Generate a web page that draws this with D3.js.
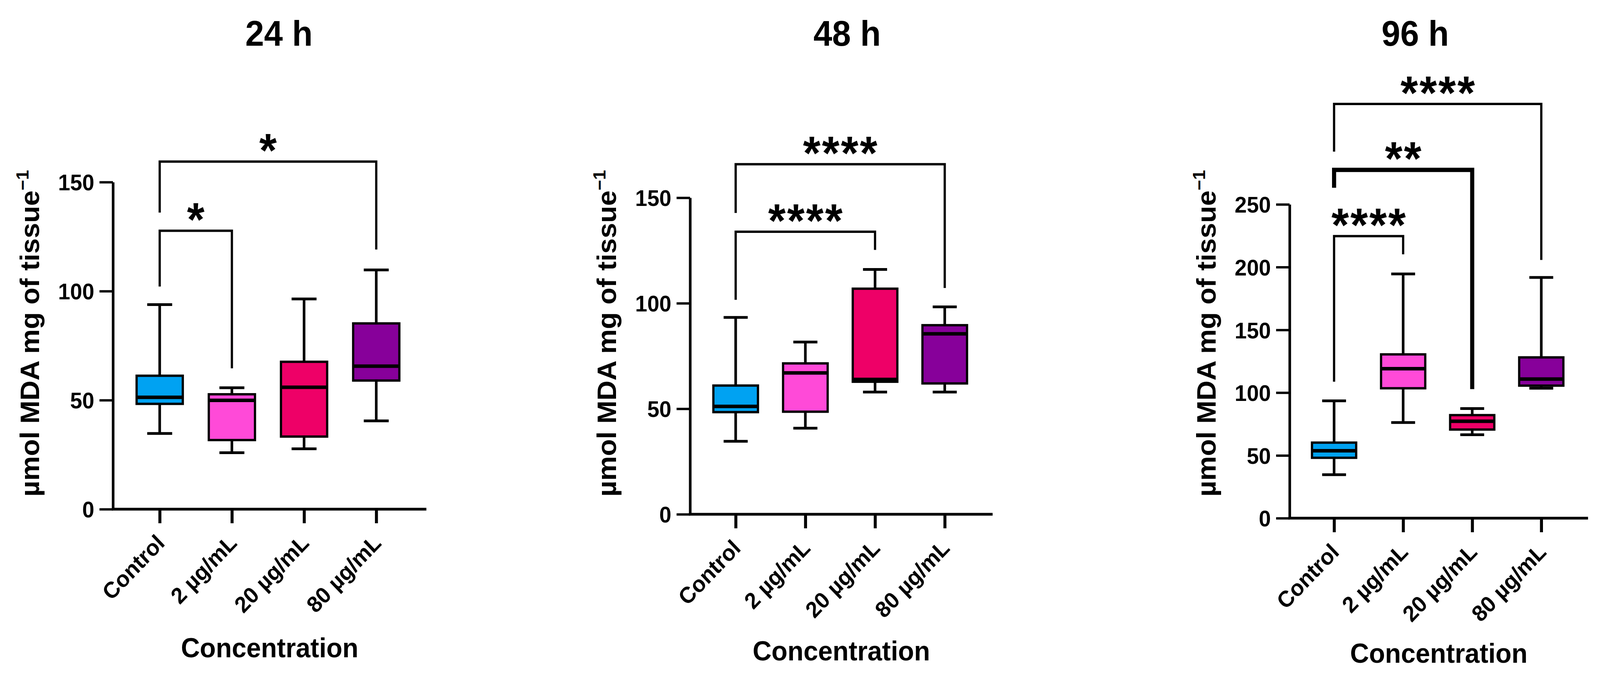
<!DOCTYPE html>
<html>
<head>
<meta charset="utf-8">
<script src="https://cdn.jsdelivr.net/npm/d3@7"></script>
<style>html,body{margin:0;padding:0;background:#fff;overflow:hidden}svg{display:block}</style>
</head>
<body>
<svg id="chart"></svg>
<script>
// groups and their fill colours
const categories = ["Control", "2 µg/mL", "20 µg/mL", "80 µg/mL"];
const colors = ["#00a2f2", "#ff4ad8", "#ee0067", "#87009a"];
const panelTitles = ["24 h", "48 h", "96 h"];

// [min, q1, median, q3, max] per group
const box24h = [[34.7, 48.3, 51.3, 61.2, 93.8], [25.9, 31.7, 49.9, 52.7, 55.7], [27.7, 33.3, 55.9, 67.6, 96.4], [40.5, 59.0, 65.6, 85.2, 109.7]];
const box48h = [[34.6, 48.4, 51.1, 61.0, 93.3], [40.8, 48.6, 67.0, 71.5, 81.6], [57.9, 62.8, 63.9, 106.9, 116.0], [57.9, 62.0, 85.5, 89.6, 98.3]];
const box96h = [[34.6, 48.1, 53.7, 60.2, 93.5], [76.2, 103.5, 119.1, 130.5, 194.6], [66.5, 70.6, 77.2, 82.1, 87.3], [103.5, 105.6, 110.8, 128.1, 191.8]];

const yTicks24 = [0, 50, 100, 150];
const yTicks48 = [0, 50, 100, 150];
const yTicks96 = [0, 50, 100, 150, 200, 250];

// significance brackets: groups a-b, bar level, left/right leg ends (data units)
const brackets24 = [
  {a: 0, b: 1, y: 127.7, ya: 102.1, yb: 64.6, label: "*"},
  {a: 0, b: 3, y: 159.4, ya: 136.0, yb: 119.1, label: "*"}
];
const brackets48 = [
  {a: 0, b: 2, y: 133.9, ya: 101.6, yb: 125.3, label: "****"},
  {a: 0, b: 3, y: 165.9, ya: 142.8, yb: 107.2, label: "****"}
];
const brackets96 = [
  {a: 0, b: 1, y: 224.7, ya: 108.7, yb: 210.2, label: "****"},
  {a: 0, b: 2, y: 277.5, ya: 263.2, yb: 102.8, label: "**"},
  {a: 0, b: 3, y: 330.0, ya: 292.0, yb: 205.7, label: "****"}
];

// layout of each panel (pixels)
const panels = [
  {title: panelTitles[0], boxes: box24h, ticks: yTicks24, brackets: brackets24,
   left: 302, right: 1140, first: 427, last: 1006, bottom: 1303, top: 466,
   titleX: 746, xTitleY: 1682, bracketWidth: [6, 6]},
  {title: panelTitles[1], boxes: box48h, ticks: yTicks48, brackets: brackets48,
   left: 1845, right: 2654, first: 1967, last: 2526, bottom: 1316, top: 506,
   titleX: 2265, xTitleY: 1690, bracketWidth: [6, 6]},
  {title: panelTitles[2], boxes: box96h, ticks: yTicks96, brackets: brackets96,
   left: 3448, right: 4246, first: 3567, last: 4121, bottom: 1326, top: 523,
   titleX: 3784, xTitleY: 1696, bracketWidth: [6, 11, 6]}
];

const W = 4278, H = 1735;
const font = "'Liberation Sans', Arial, sans-serif";
const svg = d3.select("#chart")
  .attr("viewBox", `0 0 ${W} ${H}`)
  .attr("preserveAspectRatio", "none")
  .attr("width", window.innerWidth || W)
  .attr("height", window.innerHeight || H);
svg.append("rect").attr("width", W).attr("height", H).attr("fill", "#fff");
const starSize = 120;

panels.forEach(p => {
  const g = svg.append("g");
  const x = d3.scalePoint().domain(categories).range([p.first, p.last]);
  const y = d3.scaleLinear().domain([0, p.ticks[p.ticks.length - 1]]).range([p.bottom, p.top]);
  const bw = x.step() * 0.64;

  // title
  g.append("text").attr("x", p.titleX).attr("y", 117)
    .attr("text-anchor", "middle").attr("font-family", font).attr("font-weight", "bold")
    .attr("font-size", 90).text(p.title);

  // y axis
  const ya = g.append("g").attr("transform", `translate(${p.left},0)`)
    .call(d3.axisLeft(y).tickValues(p.ticks).tickSize(36).tickSizeOuter(0).tickPadding(14));
  ya.select(".domain").attr("stroke", "#000").attr("stroke-width", 7);
  ya.selectAll(".tick line").attr("stroke", "#000").attr("stroke-width", 6);
  ya.selectAll(".tick text").attr("fill", "#000").attr("font-family", font)
    .attr("font-weight", "bold").attr("font-size", 58).attr("dy", "0.36em");

  // x axis
  g.append("line").attr("x1", p.left - 3).attr("x2", p.right)
    .attr("y1", p.bottom).attr("y2", p.bottom)
    .attr("stroke", "#000").attr("stroke-width", 7);
  const xa = g.append("g").attr("transform", `translate(0,${p.bottom})`)
    .call(d3.axisBottom(x).tickSize(36).tickSizeOuter(0));
  xa.select(".domain").remove();
  xa.selectAll(".tick line").attr("stroke", "#000").attr("stroke-width", 8);
  xa.selectAll(".tick text").attr("fill", "#000").attr("font-family", font)
    .attr("font-weight", "bold").attr("font-size", 58)
    .attr("text-anchor", "end").attr("y", 0).attr("dy", 0)
    .attr("transform", "translate(16,90) rotate(-45)");

  // axis titles
  g.append("text").attr("x", (p.left + p.right) / 2).attr("y", p.xTitleY)
    .attr("text-anchor", "middle").attr("font-family", font).attr("font-weight", "bold")
    .attr("font-size", 70).text("Concentration");

  const yl = g.append("text")
    .attr("transform", `translate(${p.left - 198},853) rotate(-90)`)
    .attr("text-anchor", "middle").attr("font-family", font).attr("font-weight", "bold")
    .attr("font-size", 71);
  yl.append("tspan").text("µmol MDA mg of tissue");
  yl.append("tspan").attr("font-size", 46).attr("dy", -28).text("−1");

  // boxes
  const data = p.boxes.map((b, i) => ({cat: categories[i], color: colors[i],
    lo: b[0], q1: b[1], med: b[2], q3: b[3], hi: b[4]}));
  const bx = g.selectAll(".box").data(data).join("g")
    .attr("transform", d => `translate(${x(d.cat)},0)`);
  bx.append("line").attr("y1", d => y(d.lo)).attr("y2", d => y(d.q1))
    .attr("stroke", "#000").attr("stroke-width", 7);
  bx.append("line").attr("y1", d => y(d.q3)).attr("y2", d => y(d.hi))
    .attr("stroke", "#000").attr("stroke-width", 7);
  bx.append("line").attr("x1", -bw * 0.27).attr("x2", bw * 0.27)
    .attr("y1", d => y(d.lo)).attr("y2", d => y(d.lo))
    .attr("stroke", "#000").attr("stroke-width", 7);
  bx.append("line").attr("x1", -bw * 0.27).attr("x2", bw * 0.27)
    .attr("y1", d => y(d.hi)).attr("y2", d => y(d.hi))
    .attr("stroke", "#000").attr("stroke-width", 7);
  bx.append("rect").attr("x", -bw / 2).attr("width", bw)
    .attr("y", d => y(d.q3)).attr("height", d => y(d.q1) - y(d.q3))
    .attr("fill", d => d.color).attr("stroke", "#000").attr("stroke-width", 6);
  bx.append("line").attr("x1", -bw / 2).attr("x2", bw / 2)
    .attr("y1", d => y(d.med)).attr("y2", d => y(d.med))
    .attr("stroke", "#000").attr("stroke-width", 9);

  // significance brackets
  const bk = g.selectAll(".bracket").data(p.brackets).join("g");
  bk.append("path")
    .attr("d", d => `M${x(categories[d.a])},${y(d.ya)}V${y(d.y)}H${x(categories[d.b])}V${y(d.yb)}`)
    .attr("fill", "none").attr("stroke", "#000")
    .attr("stroke-width", (d, i) => p.bracketWidth[i]);
  bk.append("text")
    .attr("x", d => (x(categories[d.a]) + x(categories[d.b])) / 2 + 2)
    .attr("y", d => y(d.y) - 58 + 0.59 * starSize)
    .attr("text-anchor", "middle").attr("font-family", font).attr("font-weight", "bold")
    .attr("font-size", starSize).attr("letter-spacing", 4).text(d => d.label);
});
</script>
</body>
</html>
